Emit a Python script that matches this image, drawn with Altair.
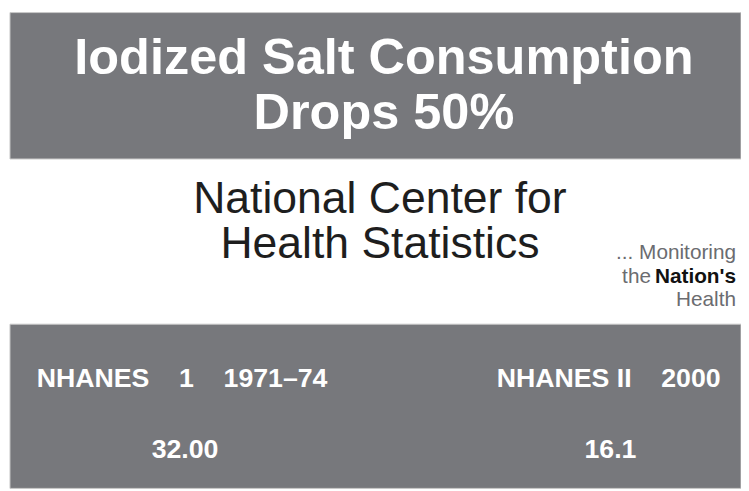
import altair as alt
import pandas as pd

# ---- content ----
title_lines = ["Iodized Salt Consumption", "Drops 50%"]
org_lines = ["National Center for", "Health Statistics"]
tagline_plain = ["... Monitoring", "the", "Health"]
tagline_bold = ["Nation's"]
surveys = ["NHANES 1 1971–74", "NHANES II 2000"]
survey_labels = [
    "NHANES\u00a0\u00a0\u00a0\u00a01\u00a0\u00a0\u00a0\u00a01971–74",
    "NHANES\u00a0II\u00a0\u00a0\u00a0\u00a02000",
]
iodine_values = [32.00, 16.1]
value_labels = ["32.00", "16.1"]

# ---- layout (window pixel coordinates) ----
W, H = 741, 483
xs = alt.Scale(domain=[8, 749], range=[0, W], nice=False, zero=False)
ys = alt.Scale(domain=[8, 491], range=[0, H], nice=False, zero=False)
GRAY = "#77787c"
FONT = "Liberation Sans"


def X(field):
    return alt.X(field, type="quantitative", scale=xs, axis=None)


def Y(field):
    return alt.Y(field, type="quantitative", scale=ys, axis=None)


panels = pd.DataFrame({"x": [10, 10], "x2": [749, 749], "y": [10, 325], "y2": [158, 491]})
panel_layer = alt.Chart(panels).mark_rect(color=GRAY, stroke="#c9c9c9", strokeWidth=1).encode(
    x=X("x"), x2="x2", y=Y("y"), y2="y2"
)

title_df = pd.DataFrame({"t": title_lines, "x": [388, 388], "y": [72, 128]})
title_layer = alt.Chart(title_df).mark_text(
    font=FONT, fontSize=51, fontWeight="bold", color="white", align="center", baseline="alphabetic"
).encode(x=X("x"), y=Y("y"), text="t:N")

org_df = pd.DataFrame({"t": org_lines, "x": [384, 384], "y": [213, 258]})
org_layer = alt.Chart(org_df).mark_text(
    font=FONT, fontSize=45, color="#1e1e1e", align="center", baseline="alphabetic"
).encode(x=X("x"), y=Y("y"), text="t:N")

tag_plain_df = pd.DataFrame({"t": tagline_plain, "x": [744, 658, 744], "y": [259, 283, 307]})
tag_plain_layer = alt.Chart(tag_plain_df).mark_text(
    font=FONT, fontSize=21, color="#6b6c70", align="right", baseline="alphabetic"
).encode(x=X("x"), y=Y("y"), text="t:N")

tag_bold_df = pd.DataFrame({"t": tagline_bold, "x": [744], "y": [283]})
tag_bold_layer = alt.Chart(tag_bold_df).mark_text(
    font=FONT, fontSize=21, fontWeight="bold", color="#111111", align="right", baseline="alphabetic"
).encode(x=X("x"), y=Y("y"), text="t:N")

surv_df = pd.DataFrame({
    "survey": surveys,
    "label": survey_labels,
    "value": iodine_values,
    "vlabel": value_labels,
    "lx": [37, 502],
    "vx": [187, 617],
    "ly": [388, 388],
    "vy": [460, 460],
})
label_layer = alt.Chart(surv_df).mark_text(
    font=FONT, fontSize=27, fontWeight="bold", color="white", align="left", baseline="alphabetic"
).encode(x=X("lx"), y=Y("ly"), text="label:N")
value_layer = alt.Chart(surv_df).mark_text(
    font=FONT, fontSize=27, fontWeight="bold", color="white", align="center", baseline="alphabetic"
).encode(x=X("vx"), y=Y("vy"), text="vlabel:N", tooltip=["survey:N", "value:Q"])

chart = alt.layer(
    panel_layer, title_layer, org_layer, tag_plain_layer, tag_bold_layer, label_layer, value_layer
).properties(
    width=W, height=H, padding=0, autosize=alt.AutoSizeParams(type="none"), background="white"
).configure_view(stroke=None)

chart.save("out.html", embed_options={"renderer": "svg", "actions": False})
